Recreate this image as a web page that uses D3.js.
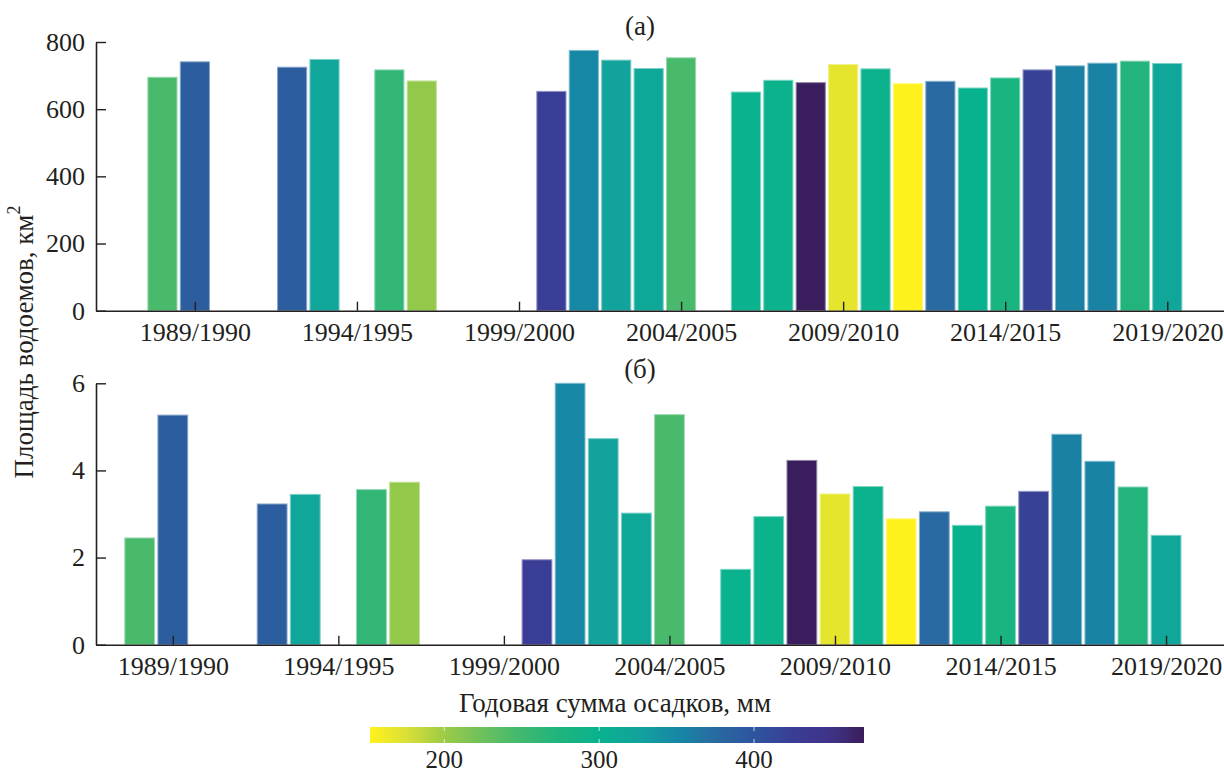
<!DOCTYPE html>
<html>
<head>
<meta charset="utf-8">
<script src="https://cdn.jsdelivr.net/npm/d3@7"></script>
<style>
  html, body { margin: 0; padding: 0; background: #fff; }
  svg { display: block; }
  text { font-family: "Liberation Serif", "Times New Roman", serif; fill: #231f20; }
</style>
</head>
<body>
<svg id="chart" width="1224" height="775"></svg>
<script>
// Hydrological years (start year of each season)
const seasons = [1988, 1989, 1992, 1993, 1995, 1996, 2000, 2001, 2002, 2003, 2004,
                 2006, 2007, 2008, 2009, 2010, 2011, 2012, 2013, 2014, 2015, 2016, 2017, 2018, 2019];

// (а) total area of water bodies, km²
const areaTotal = [695, 741, 725, 748, 717, 684, 653, 775, 746, 721, 753,
                   651, 686, 679, 733, 720, 676, 683, 663, 693, 717, 729, 737, 743, 736];

// (б) area of small water bodies, km²
const areaSmall = [2.45, 5.27, 3.23, 3.45, 3.56, 3.73, 1.95, 6.0, 4.73, 3.02, 5.28,
                   1.73, 2.94, 4.23, 3.46, 3.63, 2.89, 3.05, 2.74, 3.18, 3.52, 4.83, 4.21, 3.62, 2.51];

// Annual precipitation, mm (bar colour)
const precip = [245, 390, 390, 320, 260, 205, 425, 350, 325, 318, 245,
                298, 295, 470, 168, 295, 152, 375, 300, 280, 420, 356, 354, 272, 320];

const yTicksA = [0, 200, 400, 600, 800];
const yTicksB = [0, 2, 4, 6];
const xTickYears = [1989, 1994, 1999, 2004, 2009, 2014, 2019];
const cbTicks = [200, 300, 400];

// Colour map for precipitation
const cmapValues = [152, 175, 200, 225, 250, 275, 300, 325, 350, 375, 400, 425, 450, 471];
const cmapColors = ["#fff21c", "#dbe036", "#9ccb46", "#6cc05d", "#40b870", "#1eb47e", "#08b28e",
                    "#12a39c", "#1688a6", "#286aa1", "#2d559e", "#3a3d95", "#3f3387", "#3a1c5b"];
const color = d3.scaleLinear().domain(cmapValues).range(cmapColors).interpolate(d3.interpolateRgb).clamp(true);

const svg = d3.select("#chart");
const FONT = 26;
const TITLE_FONT = 27;
const axisColor = "#231f20";

function panel(cfg) {
  const x = d3.scaleLinear().domain(cfg.xDomain).range([96, 1224]);
  const y = d3.scaleLinear().domain(cfg.yDomain).range(cfg.yRange);
  const g = svg.append("g");

  const barW = x(0.9) - x(0);
  g.append("g").selectAll("rect")
    .data(seasons.map((s, i) => ({ s, v: cfg.values[i], p: precip[i] })))
    .join("rect")
    .attr("x", d => x(d.s) - barW / 2)
    .attr("width", barW)
    .attr("y", d => y(d.v))
    .attr("height", d => y(0) - y(d.v))
    .attr("fill", d => color(d.p))
    .attr("stroke", d => d3.interpolateRgb(color(d.p), "#ffffff")(0.45))
    .attr("stroke-width", 1);

  const yAxis = d3.axisLeft(y).tickValues(cfg.yTicks).tickFormat(d3.format("d"))
    .tickSizeInner(-10).tickSizeOuter(0).tickPadding(11);
  const ya = g.append("g").attr("transform", "translate(96,0)").call(yAxis);

  const xAxis = d3.axisBottom(x).tickValues(xTickYears).tickSizeInner(-9).tickSizeOuter(0).tickPadding(12)
    .tickFormat(d => `${d}/${d + 1}`);
  const xa = g.append("g").attr("transform", `translate(0,${y(0)})`).call(xAxis);

  [ya, xa].forEach(a => {
    a.select(".domain").attr("stroke", axisColor).attr("stroke-width", 1.6);
    a.selectAll(".tick line").attr("stroke", axisColor).attr("stroke-width", 1.4);
    a.selectAll(".tick text").attr("font-size", FONT).attr("fill", axisColor)
      .attr("font-family", "Liberation Serif, Times New Roman, serif");
  });

  g.append("text").attr("x", 640).attr("y", cfg.titleY).attr("text-anchor", "middle")
    .attr("dominant-baseline", "central").attr("font-size", TITLE_FONT).text(cfg.title);
}

panel({ values: areaTotal, xDomain: [1985.95, 2020.75], yDomain: [0, 800], yRange: [310.7, 42],
        yTicks: yTicksA, title: "(а)", titleY: 26 });
panel({ values: areaSmall, xDomain: [1986.68, 2020.75], yDomain: [0, 6], yRange: [644.7, 383.3],
        yTicks: yTicksB, title: "(б)", titleY: 369 });

// Shared y-axis title
const yt = svg.append("text")
  .attr("transform", "translate(24,342) rotate(-90)")
  .attr("text-anchor", "middle").attr("dominant-baseline", "central")
  .attr("font-size", TITLE_FONT);
yt.append("tspan").text("Площадь водоемов, км");
yt.append("tspan").attr("font-size", 18).attr("dy", -10).text("2");

// Colour bar
const cbX = d3.scaleLinear().domain([152, 471]).range([370, 864]);
const cbY = 727, cbH = 16;
const defs = svg.append("defs");
const grad = defs.append("linearGradient").attr("id", "cbGrad").attr("x1", "0%").attr("x2", "100%");
d3.range(0, 1.0001, 0.02).forEach(t => {
  const v = 152 + t * (471 - 152);
  grad.append("stop").attr("offset", `${t * 100}%`).attr("stop-color", color(v));
});
svg.append("rect").attr("x", cbX(152)).attr("y", cbY).attr("width", cbX(471) - cbX(152)).attr("height", cbH)
  .attr("fill", "url(#cbGrad)");
const cbg = svg.append("g");
cbTicks.forEach(v => {
  cbg.append("line").attr("x1", cbX(v)).attr("x2", cbX(v)).attr("y1", cbY).attr("y2", cbY + 4)
    .attr("stroke", "#fff").attr("stroke-opacity", 0.6).attr("stroke-width", 1.2);
  cbg.append("line").attr("x1", cbX(v)).attr("x2", cbX(v)).attr("y1", cbY + cbH - 4).attr("y2", cbY + cbH)
    .attr("stroke", "#fff").attr("stroke-opacity", 0.6).attr("stroke-width", 1.2);
  cbg.append("text").attr("x", cbX(v)).attr("y", 768).attr("text-anchor", "middle")
    .attr("font-size", 25).text(v);
});
svg.append("text").attr("x", 615).attr("y", 703).attr("text-anchor", "middle")
  .attr("dominant-baseline", "central").attr("font-size", TITLE_FONT).text("Годовая сумма осадков, мм");
</script>
</body>
</html>
